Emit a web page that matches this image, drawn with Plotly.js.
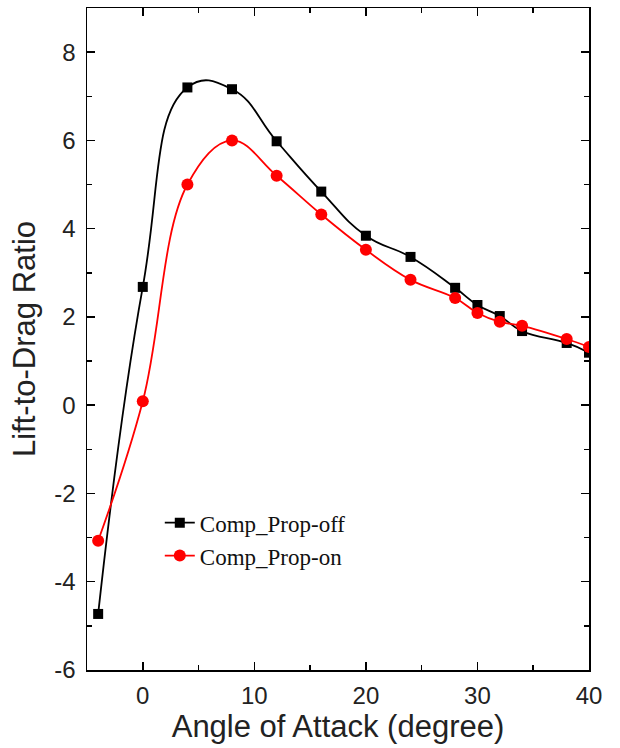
<!DOCTYPE html>
<html>
<head>
<script src="https://cdn.plot.ly/plotly-3.0.1.min.js"></script>
<style>body{margin:0;padding:0;background:#fff;} #chart{width:620px;height:748px;}</style>
</head>
<body>
<div id="chart"></div>
<script>
const angle = [-4, 0, 4, 8, 12, 16, 20, 24, 28, 30, 32, 34, 38, 40];
const propOff = [-4.73, 2.68, 7.20, 7.16, 5.98, 4.84, 3.84, 3.36, 2.66, 2.27, 2.02, 1.68, 1.41, 1.19];
const propOn  = [-3.07, 0.09, 5.00, 6.00, 5.20, 4.32, 3.52, 2.84, 2.43, 2.09, 1.89, 1.80, 1.50, 1.32];
const seriesNames = ['Comp_Prop-off', 'Comp_Prop-on'];
const xTicks = [0, 10, 20, 30, 40];
const yTicks = [-6, -4, -2, 0, 2, 4, 6, 8];

const traces = [
  {x: angle, y: propOff, name: seriesNames[0], mode: 'lines+markers', type: 'scatter',
   line: {color: '#000000', width: 1.8, shape: 'spline', smoothing: 1.3},
   marker: {symbol: 'square', size: 10, color: '#000000'}},
  {x: angle, y: propOn, name: seriesNames[1], mode: 'lines+markers', type: 'scatter',
   line: {color: '#ff0000', width: 1.8, shape: 'spline', smoothing: 1.1},
   marker: {symbol: 'circle', size: 12, color: '#ff0000'}}
];

const axisCommon = {
  showline: true, linecolor: '#000', linewidth: 1.5, mirror: 'ticks',
  ticks: 'inside', ticklen: 8, tickwidth: 1.5, tickcolor: '#000',
  showgrid: false, zeroline: false,
  tickfont: {family: 'Liberation Sans, Arial, sans-serif', size: 24, color: '#222'}
};

const layout = {
  width: 620, height: 748,
  margin: {l: 87, r: 31, t: 8, b: 78},
  paper_bgcolor: '#fff', plot_bgcolor: '#fff',
  showlegend: true,
  legend: {x: 0.145, y: 0.255, xanchor: 'left', yanchor: 'top', bgcolor: 'rgba(0,0,0,0)',
           font: {family: 'Liberation Serif, Times New Roman, serif', size: 23, color: '#111'},
           tracegroupgap: 0},
  xaxis: Object.assign({}, axisCommon, {
    range: [-5, 40], tickvals: xTicks, ticktext: xTicks.map(String),
    ticklabelstandoff: 4,
    minor: {dtick: 5, tick0: 0, ticks: 'inside', ticklen: 5, tickwidth: 1.5, tickcolor: '#000'},
    title: {text: 'Angle of Attack (degree)', standoff: 6,
            font: {family: 'Liberation Sans, Arial, sans-serif', size: 31, color: '#222'}}
  }),
  yaxis: Object.assign({}, axisCommon, {
    range: [-6, 9], tickvals: yTicks, ticktext: yTicks.map(String),
    ticklabelstandoff: 5,
    minor: {dtick: 1, tick0: 0, ticks: 'inside', ticklen: 5, tickwidth: 1.5, tickcolor: '#000'},
    title: {text: 'Lift-to-Drag Ratio', standoff: 9,
            font: {family: 'Liberation Sans, Arial, sans-serif', size: 31, color: '#222'}}
  })
};

Plotly.newPlot('chart', traces, layout, {displayModeBar: false, staticPlot: true});
</script>
</body>
</html>
